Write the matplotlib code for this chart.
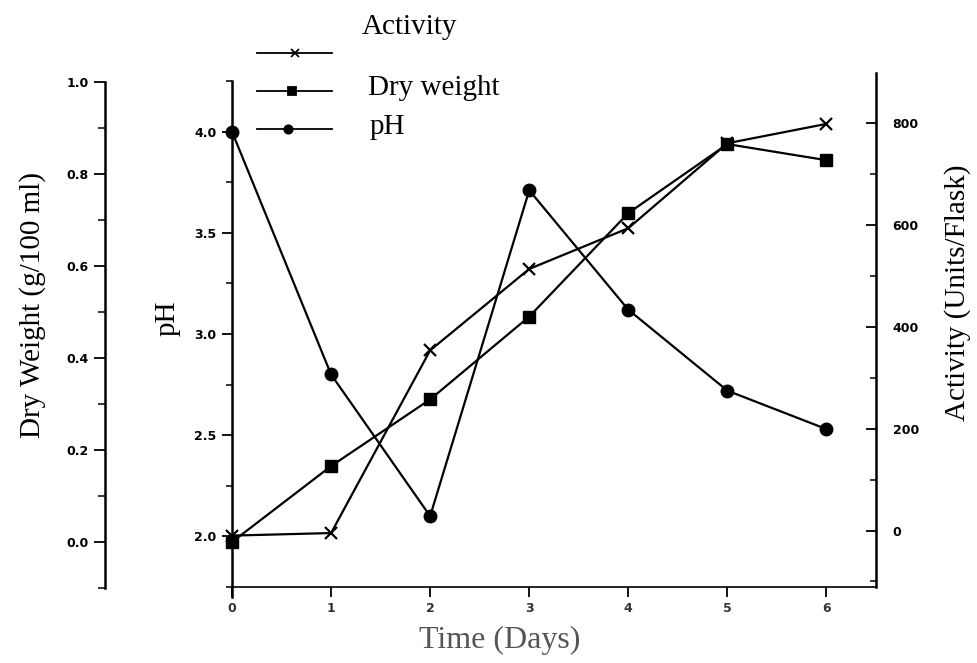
import matplotlib
matplotlib.use("Agg")
import matplotlib.pyplot as plt
from matplotlib.ticker import MultipleLocator
from matplotlib.lines import Line2D

# Culture time course
days = [0, 1, 2, 3, 4, 5, 6]
ph_values = [4.0, 2.80, 2.10, 3.71, 3.12, 2.72, 2.53]
dry_weight = [0.0, 0.165, 0.31, 0.49, 0.715, 0.865, 0.83]
activity = [-10, -5, 354, 514, 594, 761, 799]

x_ticks = [0, 1, 2, 3, 4, 5, 6]
ph_ticks = [2.0, 2.5, 3.0, 3.5, 4.0]
dw_ticks = [0.0, 0.2, 0.4, 0.6, 0.8, 1.0]
act_ticks = [0, 200, 400, 600, 800]

W, H = 978, 663
fig = plt.figure(figsize=(W / 100, H / 100), dpi=100)
fig.patch.set_facecolor("white")


def box(left, top, right, bottom):
    return [left / W, 1 - bottom / H, (right - left) / W, (bottom - top) / H]


def fpt(x, y):
    return x / W, 1 - y / H


serif = ["Liberation Serif", "DejaVu Serif"]
tick_kw = dict(family="DejaVu Sans", weight="bold", size=9)
line_kw = dict(color="black", lw=1.6)

# ---- pH axis (main frame: left spine + time axis) ----
ax = fig.add_axes(box(232, 81, 876, 587))
ax.patch.set_alpha(0)
ax.set_xlim(0, 6.5)
ax.set_ylim(1.75, 4.25)
ax.spines["top"].set_visible(False)
ax.spines["right"].set_visible(False)
ax.spines["left"].set_linewidth(1.8)
ax.spines["left"].set_bounds(1.70, 4.25)
ax.spines["bottom"].set_linewidth(1.2)
ax.set_xticks(x_ticks)
ax.set_xticklabels([str(d) for d in x_ticks], **tick_kw, color="#333333")
ax.set_yticks(ph_ticks)
ax.set_yticklabels([f"{v:.1f}" for v in ph_ticks], **tick_kw)
ax.yaxis.set_minor_locator(MultipleLocator(0.25))
ax.tick_params(axis="both", which="major", direction="out", length=7, width=1.3, pad=4)
ax.tick_params(axis="y", which="minor", direction="out", length=4, width=1.1)
ax.plot(days, ph_values, "-o", ms=9, **line_kw, clip_on=False, zorder=3)

# ---- dry weight axis (detached spine on the far left) ----
ax_dw = fig.add_axes(box(232, 82, 876, 588))
ax_dw.patch.set_alpha(0)
ax_dw.set_xlim(0, 6.5)
ax_dw.set_ylim(-0.1, 1.0)
for s in ["top", "right", "bottom"]:
    ax_dw.spines[s].set_visible(False)
ax_dw.spines["left"].set_position(("outward", (232 - 105) * 0.72))
ax_dw.spines["left"].set_linewidth(1.8)
ax_dw.xaxis.set_visible(False)
ax_dw.set_yticks(dw_ticks)
ax_dw.set_yticklabels([f"{v:.1f}" for v in dw_ticks], **tick_kw)
ax_dw.yaxis.set_minor_locator(MultipleLocator(0.1))
ax_dw.tick_params(axis="y", which="major", direction="out", length=8, width=1.3, pad=4)
ax_dw.tick_params(axis="y", which="minor", direction="out", length=5, width=1.1)
ax_dw.plot(days, dry_weight, "-s", ms=8, **line_kw, clip_on=False, zorder=3)

# ---- activity axis (right) ----
ax_act = fig.add_axes(box(232, 73, 876, 587))
ax_act.patch.set_alpha(0)
ax_act.set_xlim(0, 6.5)
ax_act.set_ylim(-111, 899)
for s in ["top", "left", "bottom"]:
    ax_act.spines[s].set_visible(False)
ax_act.spines["right"].set_linewidth(1.8)
ax_act.xaxis.set_visible(False)
ax_act.yaxis.tick_right()
ax_act.set_yticks(act_ticks)
ax_act.set_yticklabels([str(v) for v in act_ticks], **tick_kw)
ax_act.yaxis.set_minor_locator(MultipleLocator(100))
ax_act.tick_params(axis="y", which="major", direction="in", length=7, width=1.3, pad=12)
ax_act.tick_params(axis="y", which="minor", direction="in", length=4, width=1.1)
ax_act.plot(days, activity, "-x", ms=8, mew=1.6, **line_kw, clip_on=False, zorder=3)

# ---- key ----
key = [
    ("x", 53, 295, "Activity", (362, 27)),
    ("s", 91, 292, "Dry weight", (368, 88)),
    ("o", 129, 288, "pH", (370, 127)),
]
for marker, ly, mx, label, (tx, ty) in key:
    x0, y0 = fpt(257, ly)
    x1, _ = fpt(332, ly)
    fig.add_artist(Line2D([x0, x1], [y0, y0], transform=fig.transFigure,
                          color="black", lw=1.3))
    mxx, _ = fpt(mx, ly)
    fig.add_artist(Line2D([mxx], [y0], transform=fig.transFigure, color="black",
                          marker=marker, ms=6, mew=1.3, lw=0))
    tx_, ty_ = fpt(tx, ty)
    fig.text(tx_, ty_, label, ha="left", va="center", fontsize=21, family=serif)

# ---- axis titles ----
fig.text(*fpt(33, 305), "Dry Weight (g/100 ml)", rotation=90, ha="center",
         va="center", fontsize=21, family=serif)
fig.text(*fpt(168, 318), "pH", rotation=90, ha="center", va="center",
         fontsize=21, family=serif)
fig.text(*fpt(958, 293), "Activity (Units/Flask)", rotation=90, ha="center",
         va="center", fontsize=21, family=serif)
fig.text(*fpt(500, 640), "Time (Days)", ha="center", va="center",
         fontsize=23, family=serif, color="#555555")

fig.savefig("out.png", dpi=100)
